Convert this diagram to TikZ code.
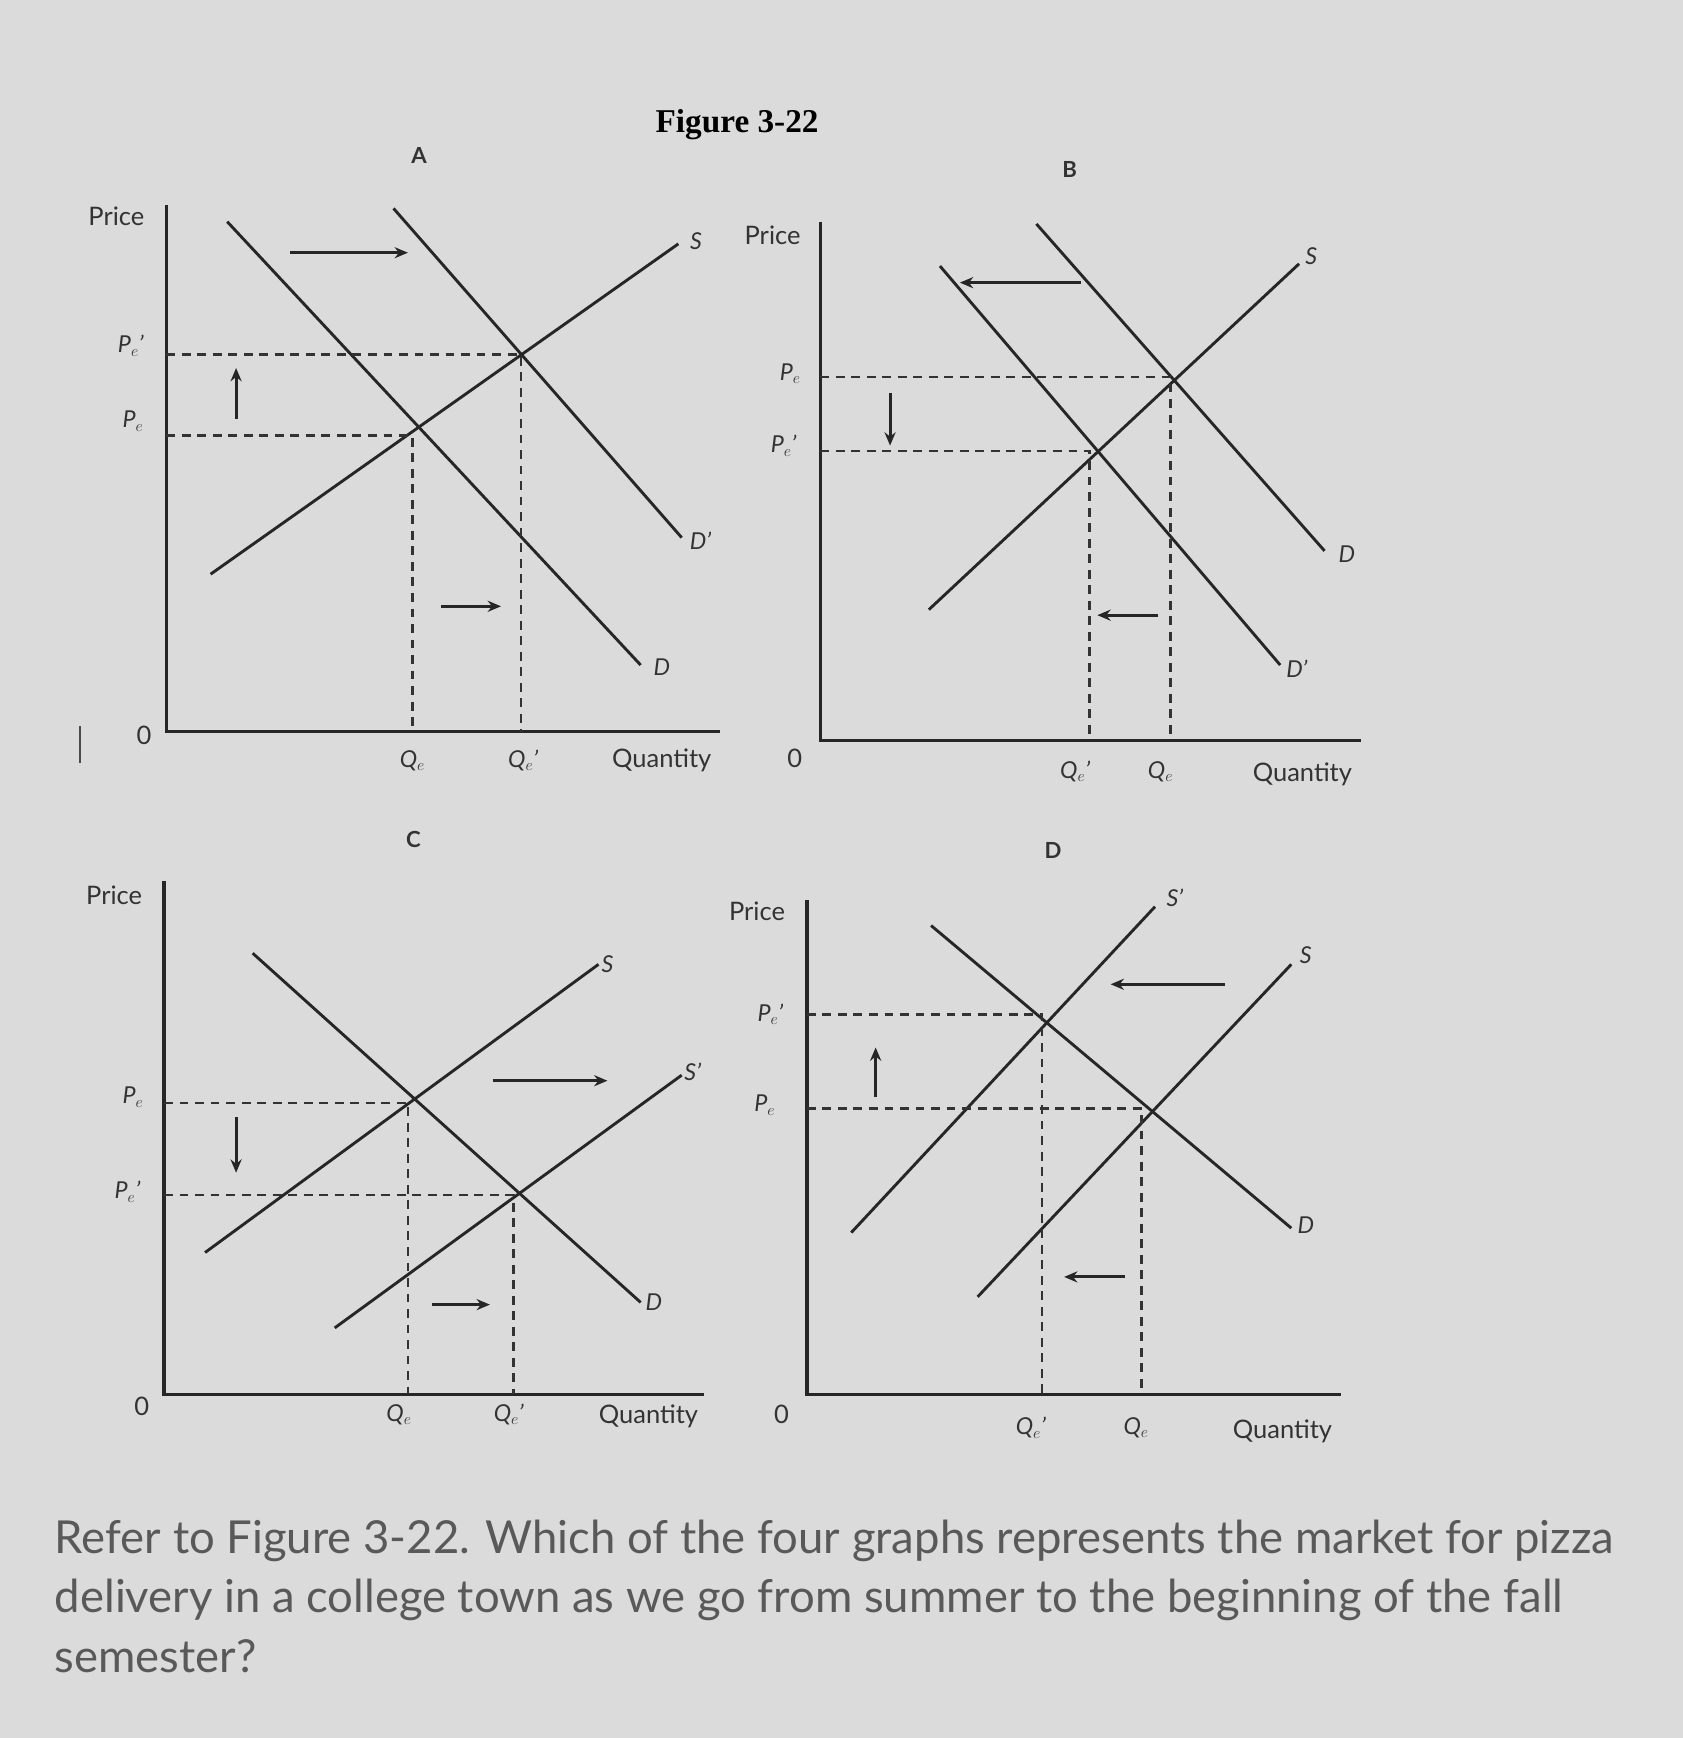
\documentclass[tikz,border=0pt]{standalone}
\usepackage{fontspec}
\setmainfont{Liberation Serif}
\setsansfont{Lato}
\begin{document}
\begin{tikzpicture}[x=1pt,y=-1pt,
  ln/.style={line width=2.6pt,black!85},
  ax/.style={line width=3pt,black!85},
  dsh/.style={line width=2.4pt,black!80,dash pattern=on 8pt off 6pt},
  arr/.style={line width=2.6pt,black!85,-{Stealth[length=12pt,width=10pt]}},
  lab/.style={font=\sffamily\fontsize{23}{25}\selectfont,text=black!80},
  sm/.style={font=\sffamily\itshape\fontsize{21}{23}\selectfont,text=black!80},
  ttl/.style={font=\sffamily\bfseries\fontsize{20}{22}\selectfont,text=black!80}]
\usetikzlibrary{arrows.meta}
\fill[black!14] (0,0) rectangle (1518,1568);
\node[font=\bfseries\fontsize{30}{32}\selectfont] (fig) at (665,112) {Figure 3-22};
\draw[line width=2pt,black!70] (72,655) -- (72,688);
% ---------- A
\node[ttl] (tA) at (378,140) {A};
\draw[ax] (150,185) -- (150,660) -- (650,660);
\node[lab] (pA) at (105,195) {Price};
\node[lab] (zA) at (130,663) {0};
\node[sm] at (372,686) {Q$_e$};
\node[sm] at (472,686) {Q$_e$'};
\node[lab] at (597,686) {Quantity};
\node[sm] at (118,312) {P$_e$'};
\node[sm] at (120,380) {P$_e$};
\draw[ln] (190,518) -- (612,220); \node[sm] at (628,218) {S};
\draw[ln] (205,200) -- (578,600); \node[sm] at (597,602) {D};
\draw[ln] (355,188) -- (615,485); \node[sm] at (632,488) {D'};
\draw[dsh] (150,320) -- (470,320) -- (470,660);
\draw[dsh] (150,393) -- (372,393) -- (372,660);
\draw[arr] (262,228) -- (368,228);
\draw[arr] (213,378) -- (213,332);
\draw[arr] (398,547) -- (452,547);
% ---------- B
\node[ttl] at (965,153) {B};
\draw[ax] (740,200) -- (740,668) -- (1228,668);
\node[lab] at (697,212) {Price};
\node[lab] at (717,684) {0};
\node[sm] at (970,696) {Q$_e$'};
\node[sm] at (1047,696) {Q$_e$};
\node[lab] at (1175,699) {Quantity};
\node[sm] at (713,337) {P$_e$};
\node[sm] at (707,402) {P$_e$'};
\draw[ln] (838,550) -- (1172,238); \node[sm] at (1183,231) {S};
\draw[ln] (935,202) -- (1195,497); \node[sm] at (1215,500) {D};
\draw[ln] (848,240) -- (1155,600); \node[sm] at (1170,603) {D'};
\draw[dsh] (740,340) -- (1056,340) -- (1056,668);
\draw[dsh] (740,407) -- (983,407) -- (983,668);
\draw[arr] (975,255) -- (866,255);
\draw[arr] (803,355) -- (803,402);
\draw[arr] (1045,555) -- (990,555);
% ---------- C
\node[ttl] at (373,757) {C};
\draw[ax] (148,795) -- (148,1258) -- (635,1258);
\node[lab] at (103,808) {Price};
\node[lab] at (128,1269) {0};
\node[sm] at (360,1276) {Q$_e$};
\node[sm] at (459,1276) {Q$_e$'};
\node[lab] at (585,1278) {Quantity};
\node[sm] at (120,990) {P$_e$};
\node[sm] at (115,1075) {P$_e$'};
\draw[ln] (185,1130) -- (540,870); \node[sm] at (548,870) {S};
\draw[ln] (302,1198) -- (615,970); \node[sm] at (625,967) {S'};
\draw[ln] (228,860) -- (578,1175); \node[sm] at (590,1175) {D};
\draw[dsh] (148,995) -- (368,995) -- (368,1258);
\draw[dsh] (148,1078) -- (463,1078) -- (463,1258);
\draw[arr] (445,975) -- (548,975);
\draw[arr] (213,1008) -- (213,1058);
\draw[arr] (390,1177) -- (442,1177);
% ---------- D
\node[ttl] at (950,767) {D};
\draw[ax] (728,812) -- (728,1258) -- (1210,1258);
\node[lab] at (683,822) {Price};
\node[lab] at (705,1276) {0};
\node[sm] at (930,1288) {Q$_e$'};
\node[sm] at (1025,1288) {Q$_e$};
\node[lab] at (1157,1291) {Quantity};
\node[sm] at (695,915) {P$_e$'};
\node[sm] at (690,997) {P$_e$};
\draw[ln] (768,1112) -- (1042,818); \node[sm] at (1060,810) {S'};
\draw[ln] (882,1170) -- (1165,870); \node[sm] at (1178,862) {S};
\draw[ln] (840,835) -- (1165,1108); \node[sm] at (1178,1105) {D};
\draw[dsh] (728,915) -- (940,915) -- (940,1258);
\draw[dsh] (728,1000) -- (1030,1000) -- (1030,1258);
\draw[arr] (1105,888) -- (1002,888);
\draw[arr] (790,990) -- (790,945);
\draw[arr] (1015,1152) -- (960,1152);
% ---------- question
\node[anchor=west,font=\sffamily\fontsize{41}{44}\selectfont,text=black!65] at (46,1390) {Refer to Figure 3-22. Which of the four graphs represents the market for pizza};
\node[anchor=west,font=\sffamily\fontsize{41}{44}\selectfont,text=black!65] at (46,1443) {delivery in a college town as we go from summer to the beginning of the fall};
\node[anchor=west,font=\sffamily\fontsize{41}{44}\selectfont,text=black!65] at (46,1494) {semester?};
\end{tikzpicture}
\end{document}
